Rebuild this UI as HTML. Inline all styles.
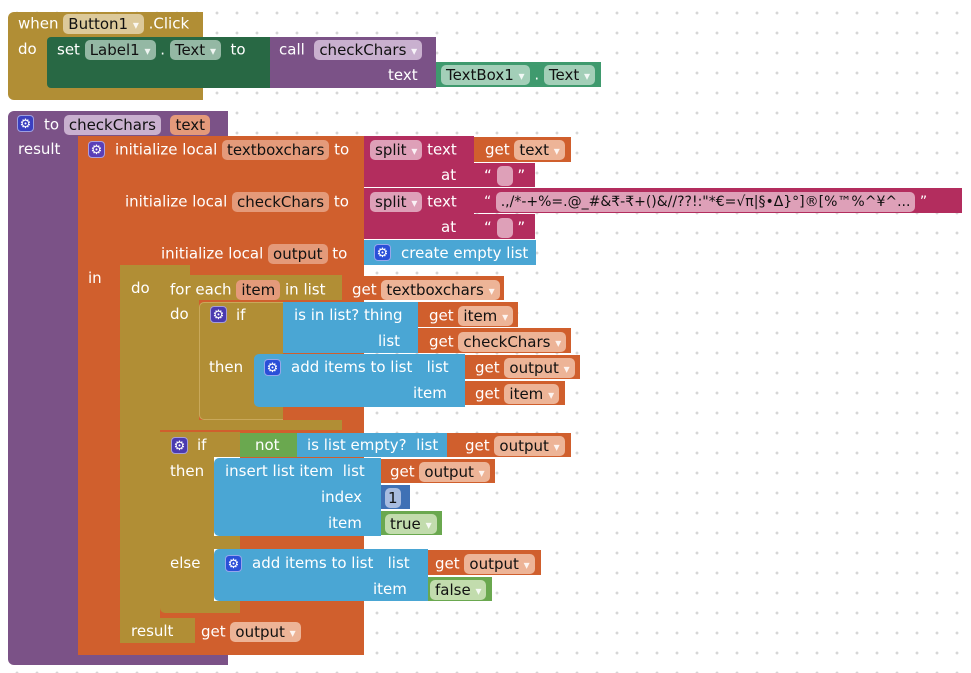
<!DOCTYPE html>
<html><head><meta charset="utf-8"><style>
body{margin:0;width:971px;height:673px;overflow:hidden;background:#fff;position:relative}
.b{position:absolute}
.t{position:absolute;color:#fff;font:15px "DejaVu Sans","Liberation Sans",sans-serif;white-space:nowrap;line-height:19px}
.p{display:inline-block;padding:0 5px;border-radius:5px;line-height:20px;height:20px;color:#111;vertical-align:middle}
.a{font-size:12px;color:rgba(255,255,255,.85)}
.g{position:absolute;width:17px;height:17px;border-radius:4px;color:#fff;font:13px "DejaVu Sans",sans-serif;line-height:17px;text-align:center;border:1px solid rgba(255,255,255,.5);box-sizing:border-box}
.gold{background:#b18e35}.pur{background:#7b5287}.ora{background:#d05f2d}.cri{background:#b32d5e}.blu{background:#4aa6d4}.dg{background:#286844}.tg{background:#3f9a6e}.gr{background:#6aa84f}
</style></head><body>
<svg class="b" style="left:0;top:0" width="971" height="673">
<defs><pattern id="pt" x="15" y="11" width="20" height="20" patternUnits="userSpaceOnUse"><path d="M2 0.5v3M0.5 2h3" stroke="#c8c8c8" stroke-width="1"/></pattern></defs>
<rect width="971" height="673" fill="url(#pt)"/></svg>

<!-- Event block -->
<div class="b gold" style="left:8px;top:12px;width:195px;height:88px;border-radius:6px 0 0 6px"></div>
<div class="b dg" style="left:47px;top:37px;width:223px;height:51px;border-radius:4px 0 0 4px"></div>
<div class="t" style="left:18px;top:14px">when <span class="p" style="background:#dcc99a">Button1 <span class="a">▾</span></span> .Click</div>
<div class="t" style="left:18px;top:40px">do</div>
<div class="t" style="left:57px;top:40px">set <span class="p" style="background:#94b8a4">Label1 <span class="a">▾</span></span> . <span class="p" style="background:#94b8a4">Text <span class="a">▾</span></span>&nbsp; to</div>
<div class="b pur" style="left:270px;top:37px;width:166px;height:51px"></div>
<div class="t" style="left:279px;top:40px">call &nbsp;<span class="p" style="background:#c9b0cf">checkChars <span class="a">▾</span></span></div>
<div class="t" style="left:388px;top:66px">text</div>
<div class="b tg" style="left:436px;top:62px;width:165px;height:25px"></div>
<div class="t" style="left:441px;top:65px"><span class="p" style="background:#a3cfb8">TextBox1 <span class="a">▾</span></span> . <span class="p" style="background:#a3cfb8">Text <span class="a">▾</span></span></div>

<!-- Procedure -->
<div class="b pur" style="left:8px;top:111px;width:220px;height:554px;border-radius:6px 0 0 6px"></div>
<div class="g" style="left:17px;top:115px;background:#3b3fc0">⚙</div>
<div class="t" style="left:44px;top:115px">to <span class="p" style="background:#c9b0cf">checkChars</span>&nbsp; <span class="p" style="background:#e49a7a">text</span></div>
<div class="t" style="left:18px;top:140px">result</div>

<!-- Local init -->
<div class="b ora" style="left:78px;top:136px;width:286px;height:519px"></div>
<div class="g" style="left:88px;top:141px;background:#5a3fb8">⚙</div>
<div class="t" style="left:115px;top:140px">initialize local <span class="p" style="background:#e49a7a">textboxchars</span> to</div>
<div class="t" style="left:125px;top:192px">initialize local <span class="p" style="background:#e49a7a">checkChars</span> to</div>
<div class="t" style="left:161px;top:244px">initialize local <span class="p" style="background:#e49a7a">output</span> to</div>
<div class="t" style="left:88px;top:269px">in</div>

<!-- split blocks -->
<div class="b cri" style="left:364px;top:136px;width:110px;height:51px"></div>
<div class="b cri" style="left:364px;top:188px;width:110px;height:51px"></div>
<div class="t" style="left:370px;top:140px"><span class="p" style="background:#dea0b8">split <span class="a">▾</span></span> text</div>
<div class="t" style="left:441px;top:166px">at</div>
<div class="t" style="left:370px;top:192px"><span class="p" style="background:#dea0b8">split <span class="a">▾</span></span> text</div>
<div class="t" style="left:441px;top:218px">at</div>
<div class="b ora" style="left:474px;top:137px;width:97px;height:25px"></div>
<div class="t" style="left:485px;top:140px">get <span class="p" style="background:#edb497">text <span class="a">▾</span></span></div>
<div class="b cri" style="left:474px;top:163px;width:61px;height:24px"></div>
<div class="t" style="left:484px;top:166px">“ <span class="p" style="background:#dea0b8;width:6px"></span> ”</div>
<div class="b cri" style="left:474px;top:188px;width:488px;height:25px"></div>
<div class="t" style="left:484px;top:192px;font-size:14px">“ <span class="p" style="background:#dea0b8">.,/*-+%=.@_#&amp;₹-₹+()&amp;//??!:"*€=√π|§•Δ}°]®[%™%^¥^...</span> ”</div>
<div class="b cri" style="left:474px;top:214px;width:61px;height:25px"></div>
<div class="t" style="left:484px;top:218px">“ <span class="p" style="background:#dea0b8;width:6px"></span> ”</div>
<div class="b blu" style="left:364px;top:240px;width:172px;height:25px"></div>
<div class="g" style="left:374px;top:244px;background:#2a4fd8">⚙</div>
<div class="t" style="left:401px;top:244px">create empty list</div>

<!-- do/result block -->
<div class="b gold" style="left:120px;top:265px;width:70px;height:20px"></div>
<div class="b gold" style="left:120px;top:265px;width:40px;height:378px"></div>
<div class="b gold" style="left:120px;top:618px;width:75px;height:25px"></div>
<div class="t" style="left:131px;top:279px">do</div>
<div class="t" style="left:131px;top:622px">result</div>
<div class="b ora" style="left:195px;top:618px;width:111px;height:25px"></div>
<div class="t" style="left:201px;top:622px">get <span class="p" style="background:#edb497">output <span class="a">▾</span></span></div>

<!-- for each -->
<div class="b gold" style="left:160px;top:275px;width:182px;height:25px;border-radius:5px 0 0 0"></div>
<div class="b gold" style="left:160px;top:275px;width:39px;height:155px"></div>
<div class="b gold" style="left:160px;top:420px;width:182px;height:10px"></div>
<div class="t" style="left:170px;top:280px">for each <span class="p" style="background:#e49a7a">item</span> in list</div>
<div class="t" style="left:170px;top:305px">do</div>
<div class="b ora" style="left:342px;top:276px;width:162px;height:24px"></div>
<div class="t" style="left:352px;top:280px">get <span class="p" style="background:#edb497">textboxchars <span class="a">▾</span></span></div>

<!-- if1 -->
<div class="b gold" style="left:199px;top:302px;width:84px;height:118px;border:1px solid #c9a85a;border-right:none;box-sizing:border-box;border-radius:5px 0 0 5px"></div>
<div class="g" style="left:210px;top:306px;background:#4a3ab0">⚙</div>
<div class="t" style="left:236px;top:306px">if</div>
<div class="t" style="left:209px;top:358px">then</div>
<div class="b blu" style="left:283px;top:302px;width:135px;height:51px"></div>
<div class="t" style="left:294px;top:306px">is in list? thing</div>
<div class="t" style="left:378px;top:332px">list</div>
<div class="b ora" style="left:418px;top:302px;width:100px;height:25px"></div>
<div class="t" style="left:429px;top:306px">get <span class="p" style="background:#edb497">item <span class="a">▾</span></span></div>
<div class="b ora" style="left:418px;top:328px;width:153px;height:25px"></div>
<div class="t" style="left:429px;top:332px">get <span class="p" style="background:#edb497">checkChars <span class="a">▾</span></span></div>
<div class="b blu" style="left:254px;top:354px;width:211px;height:53px;border-radius:5px 0 0 5px"></div>
<div class="g" style="left:264px;top:359px;background:#2a4fd8">⚙</div>
<div class="t" style="left:291px;top:358px">add items to list &nbsp; list</div>
<div class="t" style="left:413px;top:384px">item</div>
<div class="b ora" style="left:465px;top:355px;width:115px;height:24px"></div>
<div class="t" style="left:475px;top:358px">get <span class="p" style="background:#edb497">output <span class="a">▾</span></span></div>
<div class="b ora" style="left:465px;top:381px;width:100px;height:24px"></div>
<div class="t" style="left:475px;top:384px">get <span class="p" style="background:#edb497">item <span class="a">▾</span></span></div>

<!-- if2 -->
<div class="b gold" style="left:160px;top:432px;width:80px;height:181px;border-radius:0 0 0 5px"></div>
<div class="b" style="left:214px;top:457px;width:26px;height:144px;background:#fff"></div>
<div class="b gold" style="left:214px;top:536px;width:26px;height:13px"></div>
<div class="g" style="left:171px;top:437px;background:#4a3ab0">⚙</div>
<div class="t" style="left:197px;top:436px">if</div>
<div class="t" style="left:170px;top:462px">then</div>
<div class="t" style="left:170px;top:554px">else</div>
<div class="b gr" style="left:240px;top:433px;width:57px;height:24px"></div>
<div class="t" style="left:255px;top:436px">not</div>
<div class="b blu" style="left:297px;top:433px;width:150px;height:24px"></div>
<div class="t" style="left:307px;top:436px">is list empty? &nbsp;list</div>
<div class="b ora" style="left:447px;top:433px;width:124px;height:24px"></div>
<div class="t" style="left:465px;top:436px">get <span class="p" style="background:#edb497">output <span class="a">▾</span></span></div>
<div class="b blu" style="left:214px;top:458px;width:167px;height:78px;border-radius:5px 0 0 5px"></div>
<div class="t" style="left:225px;top:462px">insert list item &nbsp;list</div>
<div class="t" style="left:321px;top:488px">index</div>
<div class="t" style="left:328px;top:514px">item</div>
<div class="b ora" style="left:381px;top:459px;width:114px;height:24px"></div>
<div class="t" style="left:390px;top:462px">get <span class="p" style="background:#edb497">output <span class="a">▾</span></span></div>
<div class="b" style="left:381px;top:485px;width:29px;height:24px;background:#3f71b5"></div>
<div class="t" style="left:385px;top:488px"><span class="p" style="background:#a8bce0;padding:0 3px">1</span></div>
<div class="b gr" style="left:381px;top:511px;width:61px;height:24px"></div>
<div class="t" style="left:385px;top:514px"><span class="p" style="background:#c2dcad">true <span class="a">▾</span></span></div>
<div class="b blu" style="left:214px;top:549px;width:214px;height:52px;border-radius:5px 0 0 5px"></div>
<div class="g" style="left:225px;top:555px;background:#2a4fd8">⚙</div>
<div class="t" style="left:252px;top:554px">add items to list &nbsp; list</div>
<div class="t" style="left:373px;top:580px">item</div>
<div class="b ora" style="left:428px;top:550px;width:113px;height:25px"></div>
<div class="t" style="left:435px;top:554px">get <span class="p" style="background:#edb497">output <span class="a">▾</span></span></div>
<div class="b gr" style="left:428px;top:577px;width:64px;height:24px"></div>
<div class="t" style="left:430px;top:580px"><span class="p" style="background:#c2dcad">false <span class="a">▾</span></span></div>
</body></html>
